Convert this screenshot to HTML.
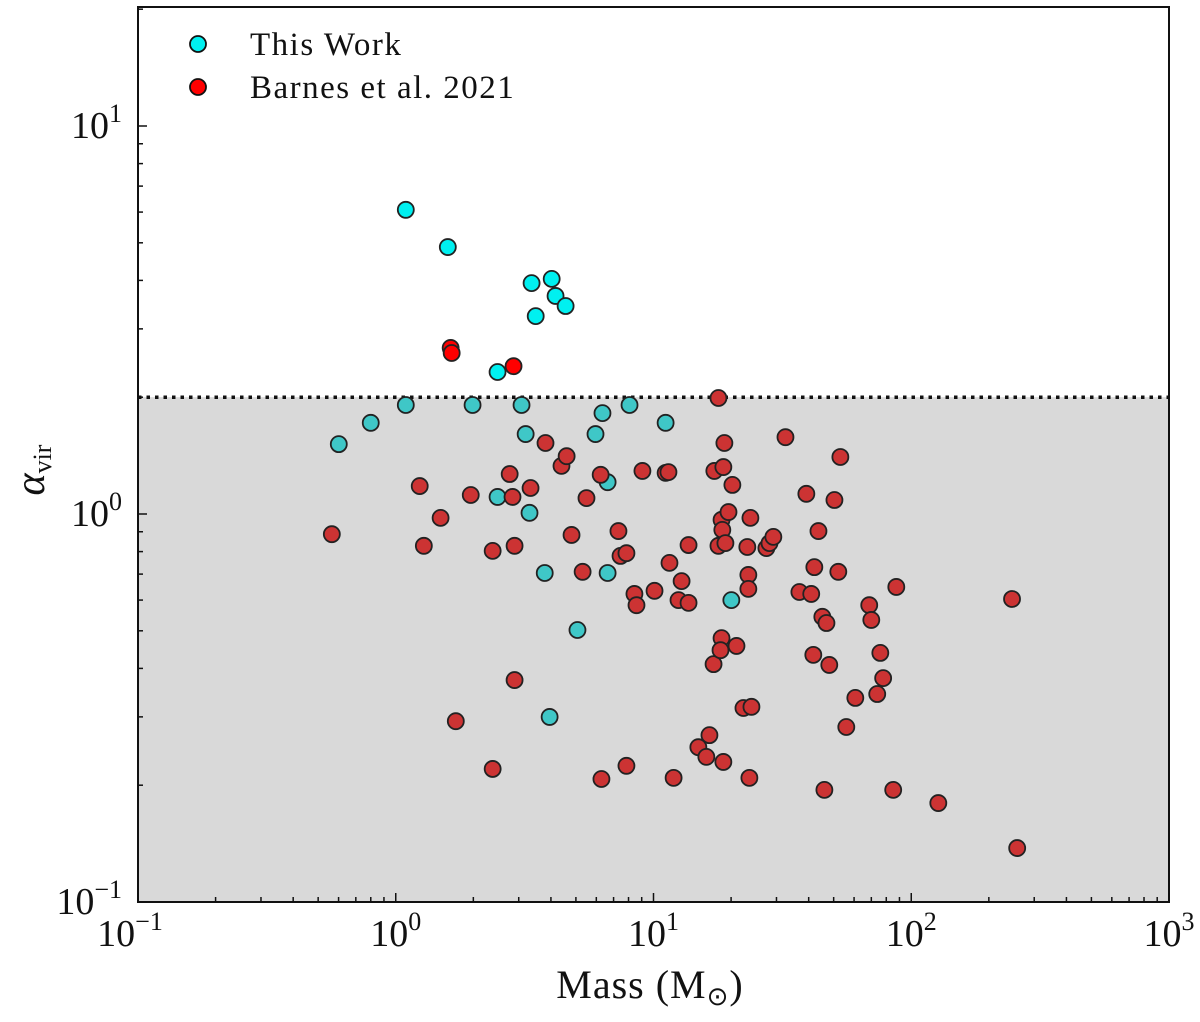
<!DOCTYPE html>
<html><head><meta charset="utf-8"><style>
body{margin:0;background:#fff}
svg text{font-family:"Liberation Serif",serif;fill:#111}
</style></head><body>
<svg id="chart" width="1200" height="1017" xmlns="http://www.w3.org/2000/svg">
<g id="plot"></g>
<g id="axes"></g>
<g>
 <circle cx="198" cy="44" r="8" fill="#00f0f0" stroke="#111" stroke-width="1.8"/>
 <text x="250" y="55" font-size="33" letter-spacing="1.5">This Work</text>
 <circle cx="198" cy="87" r="8" fill="#ff0000" stroke="#111" stroke-width="1.8"/>
 <text x="250" y="98" font-size="33" letter-spacing="1.5">Barnes et al. 2021</text>
</g>
<text x="650" y="998" font-size="40" letter-spacing="1" text-anchor="middle">Mass (M<tspan font-size="26" dy="7">⊙</tspan><tspan dy="-7">)</tspan></text>
<text transform="translate(44,470) rotate(-90)" font-size="42" text-anchor="middle" font-style="italic">α<tspan font-size="26" dy="7" font-style="normal">vir</tspan></text>
</svg>
<script>
// data stored as log10 values
const cyanLogMass = [0.039,0.202,0.527,0.605,0.620,0.659,0.543,0.395,0.039,0.298,0.488,0.907,0.802,-0.097,-0.221,0.504,0.775,1.047,0.395,0.822,0.519,0.578,0.822,1.302,0.705,0.597];
const cyanLogAlpha = [0.784,0.688,0.595,0.606,0.562,0.536,0.510,0.366,0.281,0.281,0.281,0.281,0.260,0.235,0.180,0.206,0.206,0.235,0.044,0.082,0.003,-0.152,-0.152,-0.222,-0.299,-0.523];
const redLogMass = [0.213,0.217,0.457,1.252,-0.248,0.093,0.109,0.174,0.233,0.291,0.376,0.376,0.442,0.453,0.461,0.461,0.523,0.581,0.643,0.663,0.682,0.725,0.740,0.795,0.798,0.864,0.872,0.895,0.895,0.926,0.934,0.957,1.004,1.047,1.058,1.062,1.078,1.097,1.109,1.136,1.136,1.174,1.205,1.217,1.233,1.236,1.252,1.264,1.260,1.264,1.267,1.271,1.275,1.279,1.271,1.291,1.306,1.322,1.349,1.364,1.368,1.368,1.372,1.376,1.380,1.438,1.450,1.465,1.512,1.566,1.593,1.612,1.620,1.624,1.640,1.655,1.663,1.671,1.682,1.702,1.717,1.725,1.748,1.783,1.837,1.845,1.868,1.880,1.891,1.930,1.942,2.105,2.391,2.411];
const redLogAlpha = [0.428,0.415,0.381,0.299,-0.052,0.072,-0.082,-0.010,-0.534,0.049,-0.095,-0.657,0.103,0.044,-0.082,-0.428,0.067,0.183,0.124,0.149,-0.054,-0.149,0.041,0.101,-0.683,-0.044,-0.108,-0.101,-0.649,-0.206,-0.235,0.111,-0.198,0.106,0.108,-0.126,-0.680,-0.222,-0.173,-0.229,-0.080,-0.601,-0.626,-0.570,-0.387,0.111,-0.082,-0.320,-0.351,-0.015,-0.041,0.121,0.183,-0.075,-0.639,0.005,0.075,-0.340,-0.500,-0.085,-0.157,-0.193,-0.680,-0.010,-0.497,-0.088,-0.075,-0.059,0.198,-0.201,0.052,-0.206,-0.363,-0.137,-0.044,-0.265,-0.711,-0.281,-0.389,0.036,-0.149,0.147,-0.549,-0.474,-0.235,-0.273,-0.464,-0.358,-0.423,-0.711,-0.188,-0.745,-0.219,-0.861];
const xTickExps = [-1,0,1,2,3];
const yTickExps = [-1,0,1];
const threshold = 2;

const L=138,R=1169,T=7,B=902;
const xMin=-1,xMax=3,yMin=-1,yMax=(514-7)/388;
const X=lx=>L+(lx-xMin)/(xMax-xMin)*(R-L);
const Y=ly=>B-(ly-yMin)/(yMax-yMin)*(B-T);
const NS="http://www.w3.org/2000/svg";
function mk(tag,attrs,parent){const e=document.createElementNS(NS,tag);for(const k in attrs)e.setAttribute(k,attrs[k]);parent.appendChild(e);return e;}
const plot=document.getElementById('plot'),axes=document.getElementById('axes');
const ty=Y(Math.log10(threshold));
const shade=mk('rect',{x:L,y:ty,width:R-L,height:B-ty,fill:'#d9d9d9'},plot);


const dl=mk('line',{x1:L,x2:R,y1:ty,y2:ty,stroke:'#111','stroke-width':3.5,'stroke-dasharray':'3.5 5'},plot);


function pts(lm,la,fill,name){
  for(let i=0;i<lm.length;i++){
    const c=mk('circle',{cx:X(lm[i]),cy:Y(la[i]),r:8,fill:la[i]>Math.log10(threshold)?fill[0]:fill[1],stroke:'#222','stroke-width':1.8},plot);
    
    
  }
}
pts(cyanLogMass,cyanLogAlpha,['#00f0f0','#3fc7c7'],'this-work-point');
pts(redLogMass,redLogAlpha,['#ff0000','#cc3333'],'barnes-point');
const frame=mk('rect',{x:L,y:T,width:R-L,height:B-T,fill:'none',stroke:'#111','stroke-width':2},axes);


for(let d=xMin;d<=xMax;d++){
  for(let m=1;m<=9;m++){
    const lx=d+Math.log10(m); if(lx>xMax)break;
    const x=X(lx),len=m===1?9:5;
    mk('line',{x1:x,x2:x,y1:B,y2:B-len,stroke:'#111','stroke-width':1.5},axes);
  }
}
for(let d=yMin;d<=2;d++){
  for(let m=1;m<=9;m++){
    const ly=d+Math.log10(m); if(ly>yMax)break;
    const y=Y(ly),len=m===1?9:5;
    mk('line',{x1:L,x2:L+len,y1:y,y2:y,stroke:'#111','stroke-width':1.5},axes);
  }
}
xTickExps.forEach(e=>{
  const t=mk('text',{x:X(e)-(e<0?8:0),y:946,'font-size':38,'text-anchor':'middle'},axes);
  
  
  t.innerHTML='10<tspan font-size="26" dy="-16">'+(e<0?'−'+(-e):e)+'</tspan>';
});
yTickExps.forEach(e=>{
  const t=mk('text',{x:122,y:Y(e)+12,'font-size':38,'text-anchor':'end'},axes);
  
  
  t.innerHTML='10<tspan font-size="26" dy="-16">'+(e<0?'−'+(-e):e)+'</tspan>';
});
</script>
</body></html>
